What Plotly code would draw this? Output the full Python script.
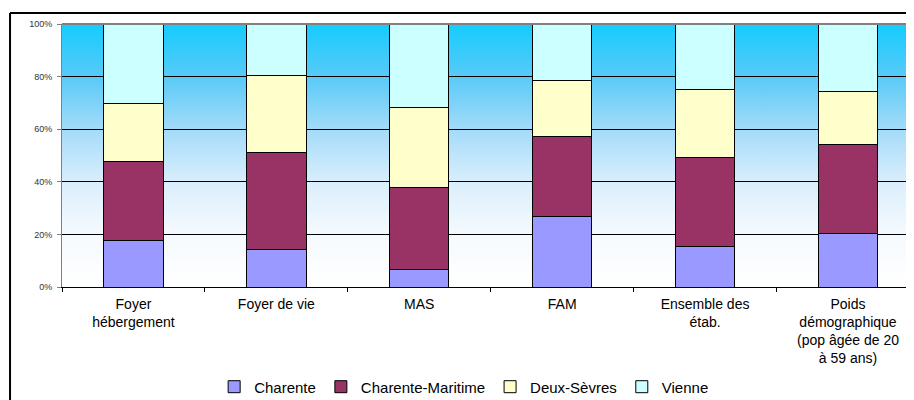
import base64
import plotly.graph_objects as go

# Data (share of places per department, %)
categories = ["Foyer<br>hébergement", "Foyer de vie", "MAS", "FAM",
              "Ensemble des<br>étab.", "Poids<br>démographique<br>(pop âgée de 20<br>à 59 ans)"]
charente = [17.6, 14.3, 6.6, 26.9, 15.5, 20.2]
charente_maritime = [30.3, 37.0, 31.2, 30.5, 33.8, 33.8]
deux_sevres = [21.7, 29.0, 30.5, 21.0, 25.9, 20.5]
vienne = [30.4, 19.7, 31.7, 21.6, 24.8, 25.5]

y_ticks = [0, 20, 40, 60, 80, 100]
y_ticktext = ["0%", "20%", "40%", "60%", "80%", "100%"]

series = [
    ("Charente", charente, "#9999FF"),
    ("Charente-Maritime", charente_maritime, "#993366"),
    ("Deux-Sèvres", deux_sevres, "#FFFFCC"),
    ("Vienne", vienne, "#CCFFFF"),
]

FONT = "Arial, 'Liberation Sans', sans-serif"

fig = go.Figure()
for name, vals, col in series:
    fig.add_trace(go.Bar(
        x=categories, y=vals, name=name,
        marker=dict(color=col, line=dict(color="black", width=1)),
        width=0.415,
    ))

# background gradient of the plot area (cyan at top -> white at bottom)
svg = ('<svg xmlns="http://www.w3.org/2000/svg" width="10" height="100" viewBox="0 0 10 100" '
       'preserveAspectRatio="none"><defs><linearGradient id="g" x1="0" y1="0" x2="0" y2="1">'
       '<stop offset="0" stop-color="#14CCFF"/>'
       '<stop offset="0.2" stop-color="#58CAF7"/>'
       '<stop offset="0.4" stop-color="#A3DBF9"/>'
       '<stop offset="0.6" stop-color="#DAEEFC"/>'
       '<stop offset="0.8" stop-color="#F5FAFE"/>'
       '<stop offset="1" stop-color="#FFFFFF"/>'
       '</linearGradient></defs><rect width="10" height="100" fill="url(#g)"/></svg>')
uri = "data:image/svg+xml;base64," + base64.b64encode(svg.encode("utf-8")).decode()

fig.update_layout(
    width=906, height=392,
    barmode="stack", barnorm="percent",
    margin=dict(l=54, r=0, t=16, b=113, autoexpand=False),
    paper_bgcolor="white",
    plot_bgcolor="rgba(0,0,0,0)",
    font=dict(family=FONT, color="black"),
    showlegend=True,
    legend=dict(orientation="h", x=0.472, xanchor="center", y=-0.38, yanchor="middle",
                font=dict(size=15), traceorder="normal", itemwidth=30),
    images=[dict(source=uri, xref="paper", yref="paper", x=0, y=1, sizex=1, sizey=1,
                 xanchor="left", yanchor="top", sizing="stretch", layer="below")],
    shapes=[
        # outer chart border (cut on right and bottom)
        dict(type="line", xref="paper", yref="paper", x0=-0.061, x1=-0.061, y0=-0.6, y1=1.042,
             line=dict(color="black", width=2)),
        dict(type="line", xref="paper", yref="paper", x0=-0.061, x1=1.05, y0=1.042, y1=1.042,
             line=dict(color="black", width=2)),
        # grey top edge of the plot area
        dict(type="line", xref="paper", yref="paper", x0=0, x1=1, y0=1, y1=1,
             line=dict(color="#808080", width=2), layer="above"),
    ],
)

fig.update_xaxes(
    range=[-0.5, 5.462],
    showgrid=False, showline=True, linecolor="black", linewidth=1,
    ticks="outside", tickson="boundaries", ticklen=4, tickcolor="black",
    tickfont=dict(size=14, family=FONT), ticklabelstandoff=4,
)
fig.update_yaxes(
    range=[0, 100], tickmode="array", tickvals=y_ticks, ticktext=y_ticktext,
    showgrid=True, gridcolor="black", gridwidth=1, zeroline=False,
    showline=True, linecolor="#808080", linewidth=1,
    ticks="outside", ticklen=4, tickcolor="#808080",
    tickfont=dict(size=9, family=FONT, color="#333333"), ticklabelstandoff=3,
)

fig.write_html("out.html")
